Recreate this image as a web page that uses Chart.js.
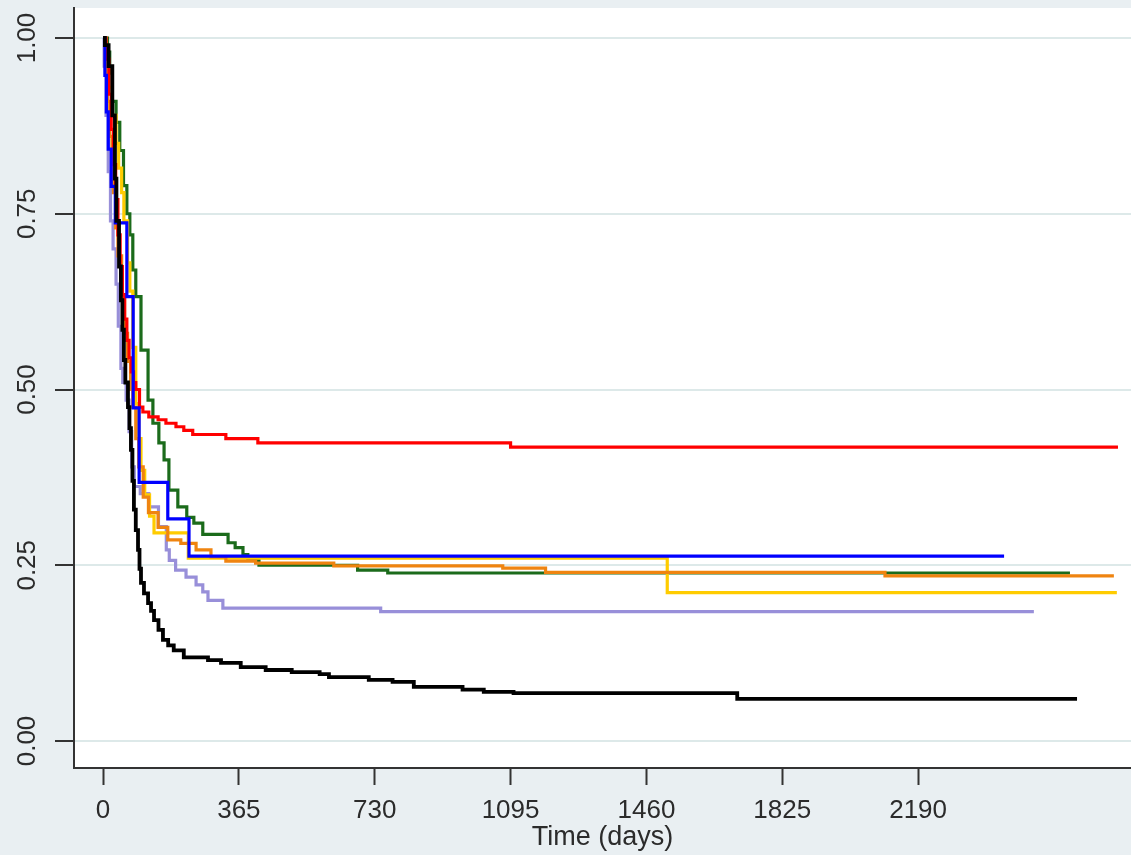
<!DOCTYPE html>
<html>
<head>
<meta charset="utf-8">
<title>Survival by time</title>
<script src="https://cdn.jsdelivr.net/npm/chart.js@4.4.1/dist/chart.umd.min.js"></script>
<style>
  html, body { margin: 0; padding: 0; background: #e9eff2; }
  #km { display: block; }
</style>
</head>
<body>
<canvas id="km" width="1131" height="855"></canvas>
<script>
// axis ticks
const xTickValues = [0, 365, 730, 1095, 1460, 1825, 2190];
const yTickValues = [0, 0.25, 0.5, 0.75, 1];
const yTickLabels = ["0.00", "0.25", "0.50", "0.75", "1.00"];
const xTitle = "Time (days)";

// survival curves (day, survival)
const redDays = [0, 8, 16, 22, 28, 34, 40, 46, 52, 58, 64, 70, 76, 82, 88, 98, 107, 123, 148, 169, 196, 217, 241, 330, 416, 1095, 2727];
const redSurv = [1, 0.97, 0.92, 0.87, 0.82, 0.77, 0.72, 0.675, 0.635, 0.6, 0.57, 0.545, 0.525, 0.51, 0.5, 0.475, 0.468, 0.461, 0.457, 0.452, 0.447, 0.442, 0.436, 0.43, 0.424, 0.418, 0.418];

const blueDays = [0, 5, 9, 14, 22, 33, 64, 81, 97, 174, 231, 2421];
const blueSurv = [1, 0.947, 0.895, 0.842, 0.789, 0.737, 0.632, 0.474, 0.368, 0.316, 0.263, 0.263];

const yellowDays = [0, 8, 15, 25, 35, 42, 50, 56, 66, 72, 80, 88, 96, 102, 112, 125, 137, 229, 1516, 2724];
const yellowSurv = [1, 0.96, 0.93, 0.89, 0.85, 0.815, 0.78, 0.74, 0.68, 0.64, 0.56, 0.48, 0.43, 0.385, 0.35, 0.32, 0.296, 0.26, 0.211, 0.211];

const orangeDays = [0, 6, 12, 18, 24, 28, 34, 40, 50, 58, 66, 74, 80, 88, 96, 108, 122, 148, 174, 209, 250, 290, 330, 410, 620, 1074, 1189, 2101, 2716];
const orangeSurv = [1, 0.96, 0.91, 0.86, 0.81, 0.78, 0.73, 0.69, 0.63, 0.58, 0.54, 0.5, 0.475, 0.43, 0.39, 0.347, 0.325, 0.304, 0.286, 0.281, 0.272, 0.262, 0.256, 0.253, 0.249, 0.246, 0.24, 0.235, 0.235];

const greenDays = [0, 12, 18, 25, 35, 45, 55, 64, 72, 80, 88, 102, 121, 134, 150, 164, 177, 201, 225, 244, 268, 336, 355, 376, 389, 419, 684, 765, 2598];
const greenSurv = [1, 0.98, 0.95, 0.91, 0.88, 0.84, 0.79, 0.75, 0.72, 0.67, 0.632, 0.556, 0.485, 0.452, 0.424, 0.4, 0.357, 0.333, 0.318, 0.31, 0.294, 0.282, 0.275, 0.265, 0.257, 0.25, 0.243, 0.239, 0.239];

const lavenderDays = [0, 3, 8, 14, 20, 27, 35, 41, 48, 53, 62, 70, 77, 84, 100, 123, 149, 170, 178, 195, 223, 250, 268, 282, 322, 746, 2501];
const lavenderSurv = [1, 0.96, 0.89, 0.81, 0.74, 0.7, 0.65, 0.59, 0.53, 0.51, 0.485, 0.44, 0.39, 0.362, 0.352, 0.333, 0.305, 0.272, 0.257, 0.243, 0.233, 0.222, 0.212, 0.2, 0.189, 0.184, 0.184];

const blackDays = [0, 5, 15, 25, 32, 36, 43, 48, 52, 56, 60, 67, 71, 75, 79, 83, 88, 94, 98, 102, 110, 121, 129, 137, 149, 161, 175, 190, 217, 282, 317, 370, 437, 507, 582, 607, 714, 778, 835, 966, 1023, 1103, 1704, 2617];
const blackSurv = [1, 0.99, 0.96, 0.89, 0.8, 0.74, 0.675, 0.627, 0.585, 0.542, 0.51, 0.475, 0.445, 0.414, 0.37, 0.329, 0.3, 0.272, 0.245, 0.225, 0.21, 0.196, 0.185, 0.172, 0.158, 0.144, 0.136, 0.129, 0.119, 0.115, 0.111, 0.105, 0.101, 0.098, 0.095, 0.091, 0.087, 0.084, 0.077, 0.073, 0.07, 0.068, 0.06, 0.06];

const FONT = "'Liberation Sans', Arial, sans-serif";
const INK = "#2b2b2b";

function toPoints(days, surv) {
  return days.map((d, i) => ({ x: d, y: surv[i] }));
}

function curve(label, days, surv, color, width) {
  return {
    label,
    data: toPoints(days, surv),
    borderColor: color,
    backgroundColor: color,
    borderWidth: width,
    pointRadius: 0,
    stepped: "before",
    fill: false,
    tension: 0,
  };
}

// white plot region on the grey page, rotated y labels on the left
const plotFrame = {
  id: "plotFrame",
  beforeDraw(chart) {
    const { ctx, chartArea } = chart;
    ctx.save();
    ctx.fillStyle = "#ffffff";
    ctx.fillRect(chartArea.left, chartArea.top, chartArea.right - chartArea.left, chartArea.bottom - chartArea.top);
    ctx.restore();
  },
  afterDraw(chart) {
    const { ctx } = chart;
    const yScale = chart.scales.y;
    ctx.save();
    ctx.fillStyle = INK;
    ctx.font = `26px ${FONT}`;
    ctx.textAlign = "center";
    ctx.textBaseline = "middle";
    yTickValues.forEach((v, i) => {
      ctx.save();
      ctx.translate(28, yScale.getPixelForValue(v));
      ctx.rotate(-Math.PI / 2);
      ctx.fillText(yTickLabels[i], 0, 0);
      ctx.restore();
    });
    ctx.restore();
  },
};

new Chart(document.getElementById("km"), {
  type: "line",
  data: {
    datasets: [
      curve("Group 7", blackDays, blackSurv, "#000000", 3.8),
      curve("Group 2", blueDays, blueSurv, "#0000ff", 3.2),
      curve("Group 1", redDays, redSurv, "#ff0000", 3.2),
      curve("Group 4", orangeDays, orangeSurv, "#ef8410", 3.2),
      curve("Group 3", yellowDays, yellowSurv, "#ffcc00", 3.2),
      curve("Group 5", greenDays, greenSurv, "#1b6b1b", 3.2),
      curve("Group 6", lavenderDays, lavenderSurv, "#988fd9", 3.2),
    ],
  },
  options: {
    responsive: false,
    devicePixelRatio: 1,
    animation: false,
    layout: { padding: { top: 8, left: 0, right: 0, bottom: 0 } },
    plugins: {
      legend: { display: false },
      tooltip: { enabled: false },
    },
    scales: {
      x: {
        type: "linear",
        min: -78,
        max: 2762,
        afterBuildTicks(scale) {
          scale.ticks = xTickValues.map((v) => ({ value: v }));
        },
        afterFit(scale) {
          scale.height = 87;
        },
        ticks: {
          color: INK,
          font: { family: FONT, size: 26 },
          padding: 10,
          maxRotation: 0,
          autoSkip: false,
          callback(value) {
            return String(value);
          },
        },
        grid: {
          drawOnChartArea: false,
          drawTicks: true,
          tickLength: 17,
          tickWidth: 2,
          tickColor: "#333333",
        },
        border: { color: "#333333", width: 2 },
        title: {
          display: true,
          text: xTitle,
          color: INK,
          font: { family: FONT, size: 27 },
          padding: { top: 0, bottom: 1 },
        },
      },
      y: {
        type: "linear",
        min: -0.0384,
        max: 1.0427,
        afterBuildTicks(scale) {
          scale.ticks = yTickValues.map((v) => ({ value: v }));
        },
        afterFit(scale) {
          scale.width = 74;
        },
        ticks: { display: false },
        grid: {
          color: "#dde9e9",
          lineWidth: 2,
          drawTicks: true,
          tickLength: 19,
          tickWidth: 2,
          tickColor: "#333333",
        },
        border: { color: "#333333", width: 2 },
      },
    },
  },
  plugins: [plotFrame],
});
</script>
</body>
</html>
